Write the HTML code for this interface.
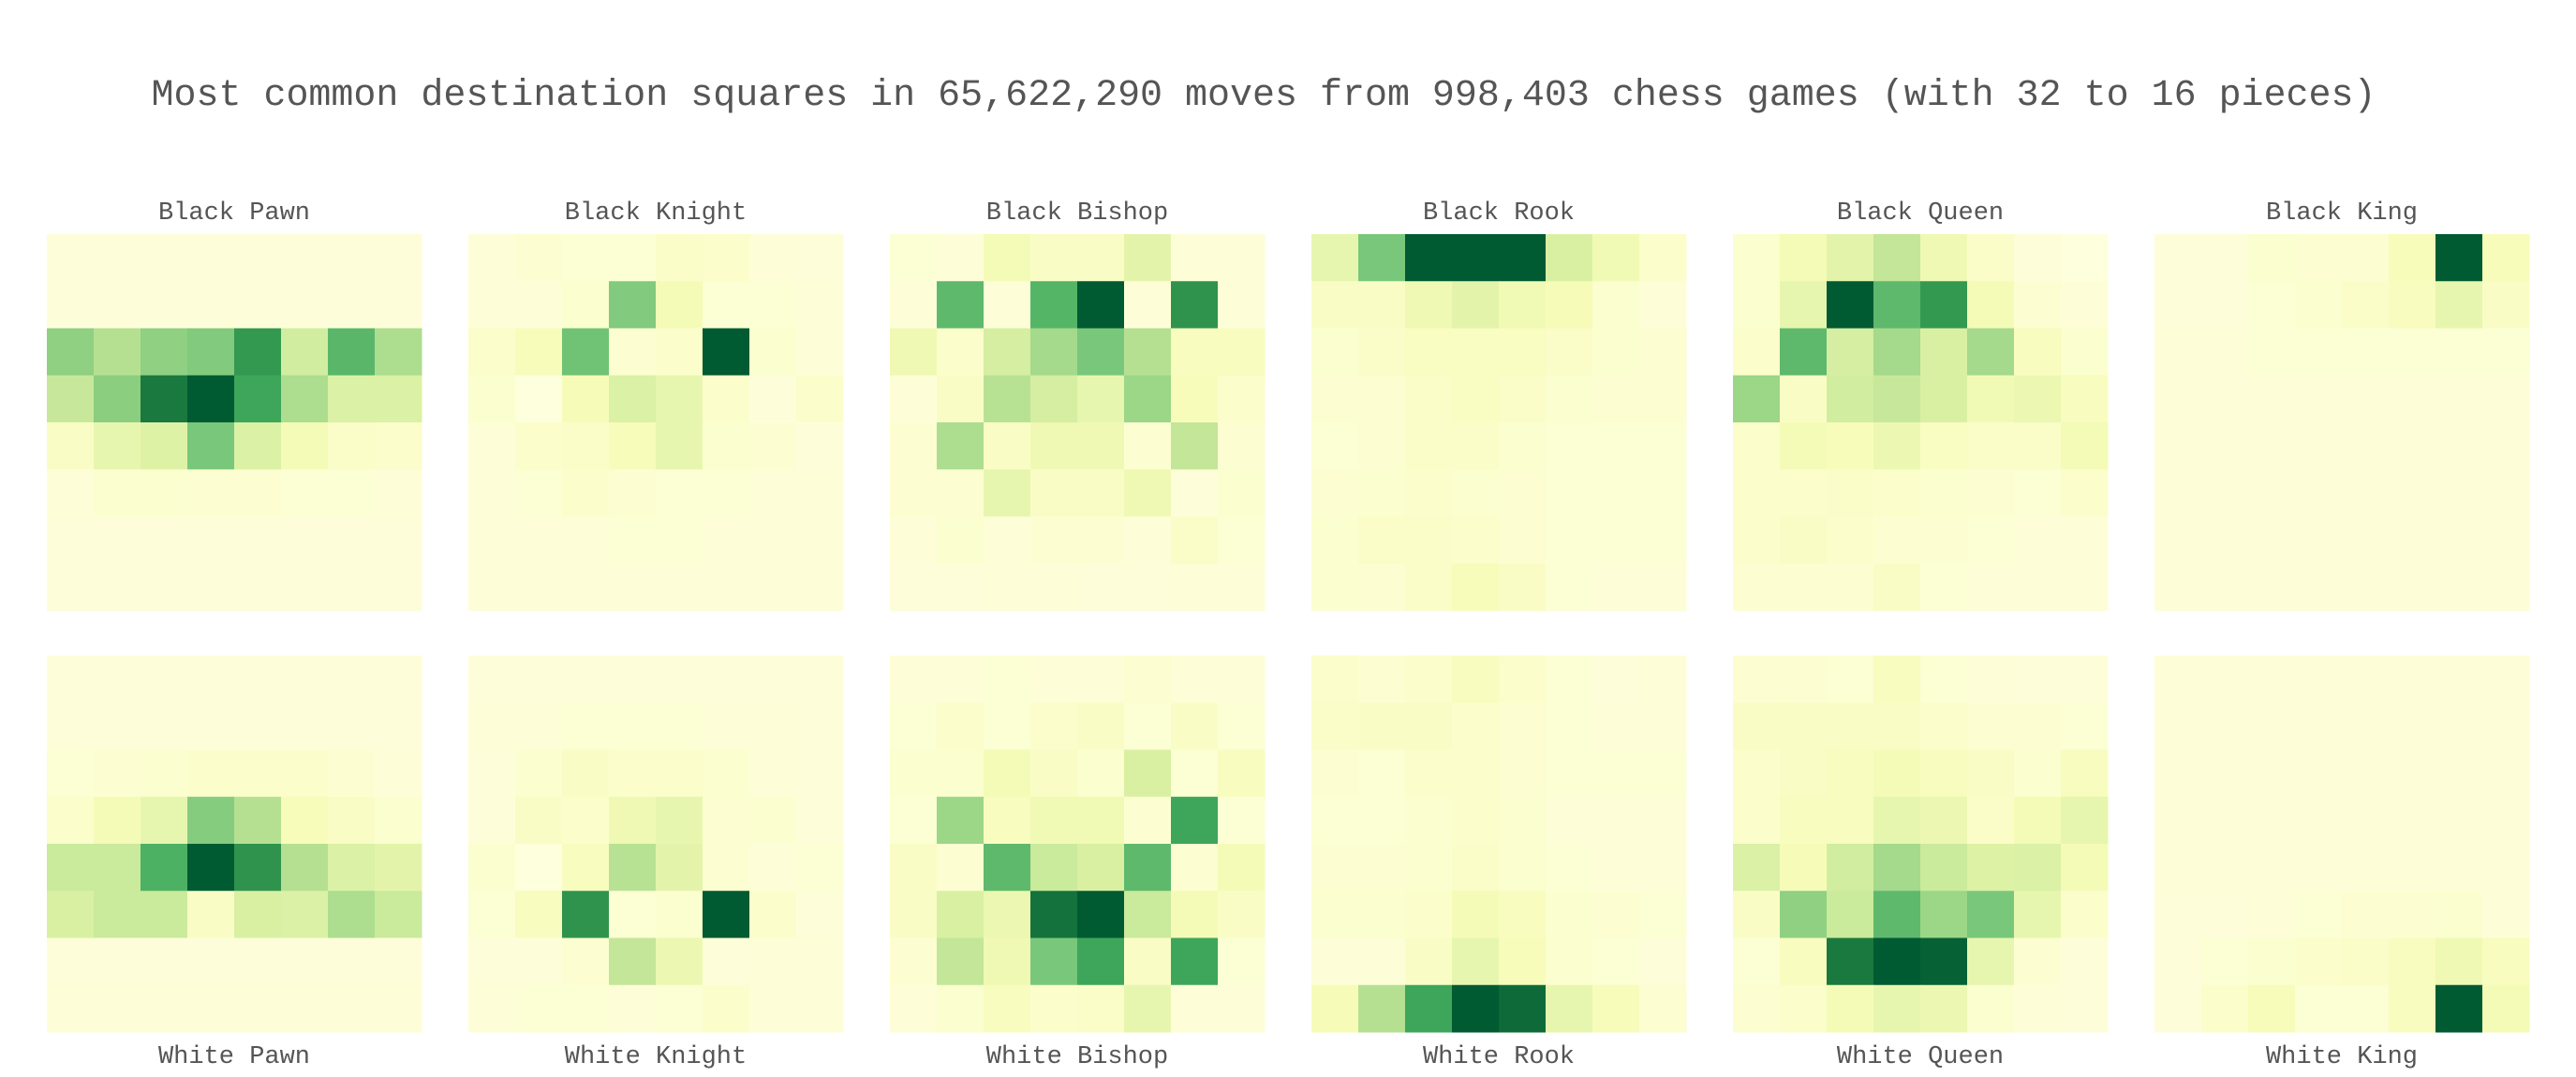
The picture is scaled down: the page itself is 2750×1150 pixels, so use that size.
<!DOCTYPE html>
<html><head><meta charset="utf-8"><style>
html,body{margin:0;padding:0;background:#fff;}
svg{display:block;}
text{font-family:"Liberation Mono",monospace;fill:#555;}
</style></head><body>
<svg id="chart" width="2750" height="1150" viewBox="0 0 2750 1150">
<text x="1349" y="112" font-size="40" text-anchor="middle" textLength="2375" lengthAdjust="spacingAndGlyphs">Most common destination squares in 65,622,290 moves from 998,403 chess games (with 32 to 16 pieces)</text>
</svg>
<script>
const pieces = ["Black Pawn","Black Knight","Black Bishop","Black Rook","Black Queen","Black King","White Pawn","White Knight","White Bishop","White Rook","White Queen","White King"];
const blackPawn = [[.03,.03,.03,.03,.03,.03,.03,.03],[.03,.03,.03,.03,.03,.03,.03,.03],[.45,.36,.45,.48,.68,.28,.57,.38],[.31,.46,.78,1,.64,.38,.25,.25],[.1,.2,.24,.5,.25,.15,.09,.08],[.04,.07,.07,.06,.06,.05,.05,.04],[.03,.03,.03,.03,.03,.03,.03,.03],[.03,.03,.03,.03,.03,.03,.03,.03]];
const blackKnight = [[.04,.06,.05,.05,.09,.08,.04,.03],[.04,.04,.07,.48,.15,.05,.05,.04],[.08,.13,.52,.06,.08,1,.07,.04],[.07,.02,.14,.25,.2,.08,.03,.08],[.04,.08,.09,.13,.2,.07,.06,.03],[.04,.05,.08,.06,.05,.05,.04,.04],[.04,.04,.04,.05,.05,.04,.04,.04],[.04,.04,.04,.04,.04,.04,.04,.04]];
const blackBishop = [[.05,.04,.15,.1,.1,.22,.04,.04],[.04,.56,.04,.58,1,.04,.7,.04],[.17,.08,.27,.4,.5,.36,.12,.12],[.04,.1,.35,.27,.2,.42,.13,.08],[.06,.38,.1,.17,.17,.06,.32,.06],[.06,.06,.2,.1,.1,.17,.03,.07],[.04,.07,.04,.06,.06,.04,.09,.05],[.03,.03,.04,.04,.03,.03,.04,.04]];
const blackRook = [[.2,.5,1,1,1,.26,.16,.08],[.1,.1,.17,.22,.16,.14,.07,.04],[.07,.09,.11,.11,.11,.09,.07,.06],[.06,.06,.09,.11,.09,.07,.06,.06],[.05,.06,.09,.09,.07,.05,.05,.05],[.06,.07,.08,.07,.06,.05,.05,.05],[.07,.09,.09,.08,.06,.05,.05,.05],[.07,.06,.09,.13,.1,.05,.04,.04]];
const blackQueen = [[.07,.15,.22,.32,.17,.09,.03,.02],[.07,.2,1,.56,.68,.15,.06,.04],[.08,.56,.27,.4,.26,.4,.12,.07],[.42,.1,.28,.31,.26,.16,.18,.12],[.08,.15,.13,.18,.11,.09,.09,.15],[.08,.08,.09,.08,.07,.06,.05,.08],[.08,.1,.08,.06,.06,.05,.04,.04],[.06,.06,.06,.1,.05,.04,.04,.04]];
const blackKing = [[.03,.03,.07,.06,.06,.13,1,.13],[.03,.03,.05,.07,.09,.12,.2,.1],[.04,.04,.05,.05,.05,.05,.05,.05],[.04,.04,.04,.04,.04,.04,.04,.04],[.04,.04,.04,.04,.04,.04,.04,.04],[.04,.04,.04,.04,.04,.04,.04,.04],[.04,.04,.04,.04,.04,.04,.04,.04],[.04,.04,.04,.04,.04,.04,.04,.04]];
const whitePawn = [[.03,.03,.03,.03,.03,.03,.03,.03],[.03,.03,.03,.03,.03,.03,.03,.03],[.05,.06,.07,.08,.08,.08,.06,.04],[.08,.15,.2,.47,.36,.13,.1,.07],[.3,.3,.6,1,.7,.36,.25,.22],[.26,.3,.3,.1,.26,.25,.38,.3],[.03,.03,.03,.03,.03,.03,.03,.03],[.04,.04,.04,.04,.04,.04,.04,.04]];
const whiteKnight = [[.03,.03,.03,.03,.03,.03,.03,.03],[.04,.04,.05,.05,.05,.04,.04,.03],[.03,.07,.1,.08,.08,.07,.04,.03],[.03,.1,.08,.17,.2,.06,.07,.03],[.07,.02,.12,.35,.22,.06,.04,.05],[.05,.12,.7,.05,.07,1,.08,.03],[.03,.03,.06,.32,.18,.03,.04,.04],[.04,.05,.05,.04,.05,.08,.04,.04]];
const whiteBishop = [[.04,.04,.05,.04,.04,.06,.04,.04],[.05,.08,.05,.08,.1,.05,.1,.05],[.07,.07,.15,.1,.07,.26,.05,.12],[.05,.42,.12,.16,.16,.06,.64,.05],[.1,.06,.56,.3,.26,.56,.06,.15],[.1,.26,.18,.8,1,.3,.15,.1],[.06,.32,.17,.5,.64,.1,.64,.05],[.04,.07,.12,.08,.09,.2,.04,.04]];
const whiteRook = [[.08,.06,.08,.12,.08,.05,.03,.04],[.09,.1,.1,.08,.06,.05,.04,.04],[.06,.05,.08,.08,.06,.05,.05,.05],[.05,.05,.07,.08,.07,.04,.04,.04],[.06,.06,.07,.09,.07,.05,.04,.04],[.07,.07,.08,.15,.12,.07,.06,.05],[.04,.04,.1,.2,.13,.07,.05,.03],[.14,.36,.64,1,.82,.2,.13,.06]];
const whiteQueen = [[.06,.06,.05,.12,.05,.04,.03,.03],[.1,.1,.1,.1,.08,.06,.06,.05],[.08,.1,.12,.15,.12,.1,.07,.12],[.08,.12,.12,.2,.18,.09,.15,.2],[.25,.14,.28,.4,.3,.24,.25,.15],[.1,.45,.3,.56,.42,.5,.2,.08],[.05,.12,.78,1,.85,.2,.06,.03],[.06,.08,.15,.2,.18,.07,.04,.03]];
const whiteKing = [[.04,.04,.04,.04,.04,.04,.04,.04],[.04,.04,.04,.04,.04,.04,.04,.04],[.04,.04,.04,.04,.04,.04,.04,.04],[.04,.04,.04,.04,.04,.04,.04,.04],[.04,.04,.04,.04,.04,.04,.04,.04],[.03,.03,.04,.05,.06,.06,.07,.04],[.03,.05,.07,.08,.09,.12,.17,.12],[.03,.08,.13,.05,.05,.12,1,.15]];
const grids = [blackPawn,blackKnight,blackBishop,blackRook,blackQueen,blackKing,whitePawn,whiteKnight,whiteBishop,whiteRook,whiteQueen,whiteKing];

const stops = ["#ffffe2","#f7fcb9","#d9f0a3","#addd8e","#78c679","#41ab5d","#238443","#005a32"];
function hex(c){return [1,3,5].map(i=>parseInt(c.substr(i,2),16));}
function color(t){
  t = t + 0.17*Math.max(0,t-0.1);
  t=Math.max(0,Math.min(1,t));
  const p=t*(stops.length-1), i=Math.min(stops.length-2,Math.floor(p)), f=p-i;
  const a=hex(stops[i]), b=hex(stops[i+1]);
  return "rgb("+a.map((v,k)=>Math.round(v+(b[k]-v)*f)).join(",")+")";
}
const NS="http://www.w3.org/2000/svg";
const svg=document.getElementById("chart");
const W=400,H=402,cw=W/8,ch=H/8;
function gx(i){return 50+450*(i%6);}
function gy(i){return i<6?250:700;}
grids.forEach((g,i)=>{
  const grp=document.createElementNS(NS,"g");
  
  
  g.forEach((row,r)=>row.forEach((v,c)=>{
    const rect=document.createElementNS(NS,"rect");
    rect.setAttribute("x",gx(i)+c*cw);
    rect.setAttribute("y",gy(i)+r*ch);
    rect.setAttribute("width",cw+0.5);
    rect.setAttribute("height",ch+0.5);
    rect.setAttribute("fill",color(v));
    
    
    grp.appendChild(rect);
  }));
  svg.appendChild(grp);
  const t=document.createElementNS(NS,"text");
  t.setAttribute("x",gx(i)+W/2);
  t.setAttribute("y",i<6?234:1135);
  t.setAttribute("font-size","27");
  t.setAttribute("text-anchor","middle");
  t.textContent=pieces[i];
  
  
  svg.appendChild(t);
});
</script>
</body></html>
